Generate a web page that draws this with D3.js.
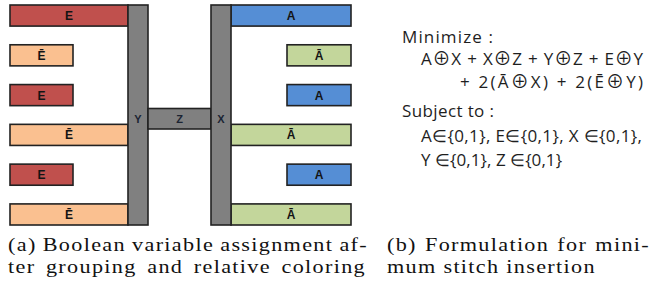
<!DOCTYPE html>
<html>
<head>
<meta charset="utf-8">
<script src="https://cdn.jsdelivr.net/npm/d3@7"></script>
<style>
  body { margin: 0; background: #fff; }
  svg { display: block; }
</style>
</head>
<body>
<div id="fig"></div>
<script>
// rows of the assignment figure, top to bottom
const leftLabels = ["E", "Ē", "E", "Ē", "E", "Ē"];
const leftLong = [true, false, false, true, false, true];
const rightLabels = ["A", "Ā", "A", "Ā", "A", "Ā"];
const rightLong = [true, false, false, true, false, true];
const columnLabels = ["Y", "Z", "X"];

// formulation text
const formulaLines = [
    "Minimize :",
    "A⊕X + X⊕Z + Y⊕Z + E⊕Y",
    "+ 2(Ā⊕X) + 2(Ē⊕Y)",
    "Subject to :",
    "A∈{0,1}, E∈{0,1}, X ∈{0,1},",
    "Y ∈{0,1}, Z ∈{0,1}"
];
const captionA = ["(a) Boolean variable assignment af-", "ter grouping and relative coloring"];
const captionB = ["(b) Formulation for mini-", "mum stitch insertion"];

const colors = {
    "E": "#C0504D",
    "Ē": "#FAC090",
    "A": "#558ED5",
    "Ā": "#C3D69B",
    col: "#808080",
    edge: "#222222"
};

const width = 650, height = 285;
const stretch = 1.2; // the source figure is widened horizontally

const svg = d3.select("#fig").append("svg")
    .attr("width", width).attr("height", height);

// vertical placement of the six rows
const y = d3.scaleBand()
    .domain(d3.range(leftLabels.length))
    .range([5, 225])
    .paddingInner(0.47)
    .paddingOuter(0);

// horizontal layout of the left figure
const lay = {
    left0: 10, leftShort: 73, yCol0: 128, yCol1: 148,
    xCol0: 211, xCol1: 231, rightShort: 287, right1: 351,
    zTop: 108.5, zBot: 129
};

const g = svg.append("g");

function drawBars(labels, longs, side) {
    const rows = labels.map((l, i) => ({ label: l, long: longs[i], i }));
    const x0 = d => side === "left" ? lay.left0 : (d.long ? lay.xCol1 : lay.rightShort);
    const x1 = d => side === "left" ? (d.long ? lay.yCol0 : lay.leftShort) : lay.right1;

    const bar = g.selectAll(".bar-" + side)
        .data(rows)
        .enter().append("g")
        .attr("class", "bar-" + side);

    bar.append("rect")
        .attr("x", x0)
        .attr("y", d => y(d.i))
        .attr("width", d => x1(d) - x0(d))
        .attr("height", y.bandwidth())
        .attr("fill", d => colors[d.label])
        .attr("stroke", colors.edge)
        .attr("stroke-width", 1.6);

    bar.append("text")
        .attr("x", d => (x0(d) + x1(d)) / 2)
        .attr("y", d => y(d.i) + y.bandwidth() / 2 + 4.5)
        .attr("text-anchor", "middle")
        .attr("font-family", "Liberation Sans, Arial, sans-serif")
        .attr("font-weight", "bold")
        .attr("font-size", 12)
        .attr("fill", "#141414")
        .text(d => d.label);
}

drawBars(leftLabels, leftLong, "left");
drawBars(rightLabels, rightLong, "right");

// grey columns and bridge
const yTop = y(0), yBot = y(leftLabels.length - 1) + y.bandwidth();
const cols = [
    { name: columnLabels[0], x0: lay.yCol0, x1: lay.yCol1, y0: yTop, y1: yBot },
    { name: columnLabels[1], x0: lay.yCol1, x1: lay.xCol0, y0: lay.zTop, y1: lay.zBot },
    { name: columnLabels[2], x0: lay.xCol0, x1: lay.xCol1, y0: yTop, y1: yBot }
];

g.selectAll(".col")
    .data(cols)
    .enter().append("rect")
    .attr("class", "col")
    .attr("x", d => d.x0)
    .attr("y", d => d.y0)
    .attr("width", d => d.x1 - d.x0)
    .attr("height", d => d.y1 - d.y0)
    .attr("fill", colors.col)
    .attr("stroke", colors.edge)
    .attr("stroke-width", 1.6);

g.selectAll(".col-label")
    .data(cols)
    .enter().append("text")
    .attr("x", d => (d.x0 + d.x1) / 2)
    .attr("y", 123)
    .attr("text-anchor", "middle")
    .attr("font-family", "Liberation Sans, Arial, sans-serif")
    .attr("font-weight", "bold")
    .attr("font-size", 11)
    .attr("fill", "#1b2433")
    .text(d => d.name);

// formulation on the right
const fx = [402, 421, 460, 402, 421, 421];
const fy = [43, 65, 88, 117, 142, 166];
const fw = [91, 222, 183, 92, 221, 141];

svg.selectAll(".formula")
    .data(formulaLines)
    .enter().append("text")
    .attr("class", "formula")
    .attr("x", (d, i) => fx[i])
    .attr("y", (d, i) => fy[i])
    .attr("font-family", "Open Sans, Noto Sans, sans-serif")
    .attr("font-size", 17)
    .attr("fill", "#1e1e1e")
    .attr("textLength", (d, i) => fw[i])
    .attr("lengthAdjust", "spacing")
    .each(function (d) {
        const t = d3.select(this);
        d.split(/(⊕)/).forEach(part => {
            if (!part) return;
            const s = t.append("tspan").text(part);
            if (part === "⊕") {
                s.attr("font-family", "Noto Sans CJK SC, DejaVu Sans, sans-serif")
                    .attr("font-size", 18);
            }
        });
    });

// captions, widened like the source and justified with word spacing
function caption(lines, x, widths, justify) {
    const t = svg.selectAll(null)
        .data(lines)
        .enter().append("text")
        .attr("transform", (d, i) => `translate(${x},${251 + i * 22}) scale(${stretch},1)`)
        .attr("font-family", "Liberation Serif, Times New Roman, serif")
        .attr("font-size", 18.5)
        .attr("letter-spacing", 1.1)
        .attr("fill", "#111")
        .text(d => d);
    t.each(function (d, i) {
        if (!justify[i]) return;
        const natural = this.getComputedTextLength();
        const spaces = (d.match(/ /g) || []).length;
        const extra = (widths[i] / stretch - natural) / spaces;
        d3.select(this).attr("word-spacing", extra);
    });
}

caption(captionA, 8, [360, 358], [true, true]);
caption(captionB, 387, [263, 203], [true, false]);
</script>
</body>
</html>
